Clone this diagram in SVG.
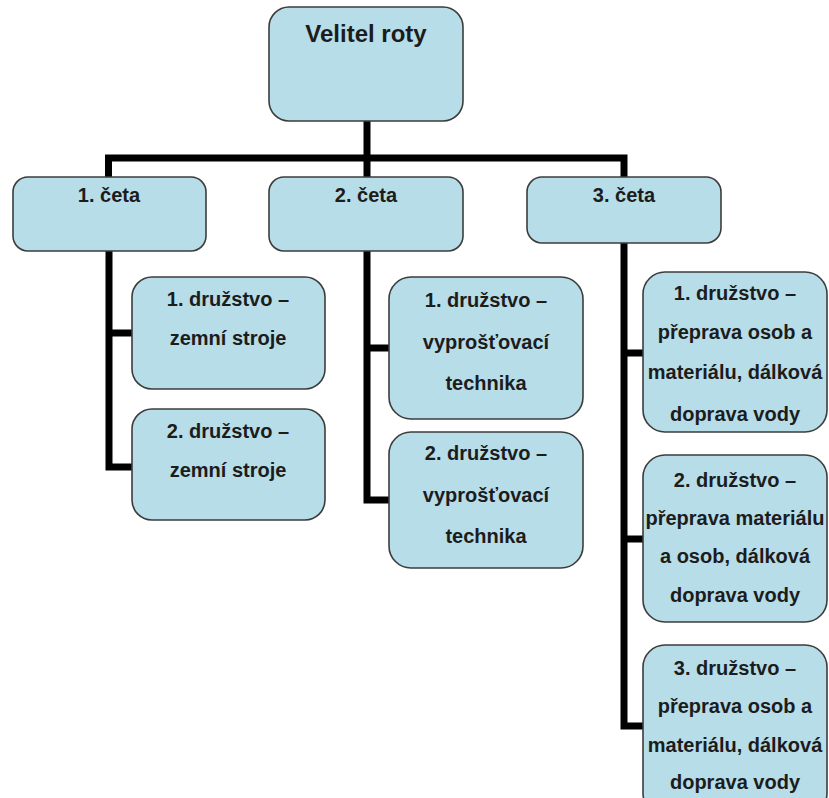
<svg xmlns="http://www.w3.org/2000/svg" width="829" height="798" viewBox="0 0 829 798">
<style>
.box{fill:#b7dde8;stroke:#3c3c3c;stroke-width:1.6}
.t{font-family:"Liberation Sans",Arial,sans-serif;font-weight:bold;font-size:20px;fill:#1c1c1c;text-anchor:middle}
.big{font-size:24px}
.c{fill:none;stroke:#000;stroke-width:7;stroke-linejoin:miter;stroke-linecap:butt}
</style>
<rect width="829" height="798" fill="#fff"/>
<g id="connectors">
<path class="c" d="M367,121 V177"/>
<path class="c" d="M108.5,177 V158 H624 V177"/>
<path class="c" d="M109,251 V467 H132 M109,333 H132"/>
<path class="c" d="M367,251 V500 H389 M367,348 H389"/>
<path class="c" d="M624,243 V726 H643 M624,353 H643 M624,539 H643"/>
</g>
<g id="velitel">
<rect class="box" x="269" y="7" width="194" height="114" rx="20"/>
<text class="t big" x="366" y="42">Velitel roty</text>
</g>
<g id="ceta1">
<rect class="box" x="13" y="177" width="193" height="74" rx="15"/>
<text class="t" x="109" y="202">1. četa</text>
</g>
<g id="ceta2">
<rect class="box" x="269" y="177" width="194" height="74" rx="15"/>
<text class="t" x="366" y="202">2. četa</text>
</g>
<g id="ceta3">
<rect class="box" x="527" y="177" width="194" height="66" rx="15"/>
<text class="t" x="624" y="202">3. četa</text>
</g>
<g id="c1d1">
<rect class="box" x="132" y="277" width="193" height="112" rx="20"/>
<text class="t" x="228" y="306">1. družstvo –</text>
<text class="t" x="228" y="345">zemní stroje</text>
</g>
<g id="c1d2">
<rect class="box" x="132" y="409" width="193" height="111" rx="20"/>
<text class="t" x="228" y="438">2. družstvo –</text>
<text class="t" x="228" y="477">zemní stroje</text>
</g>
<g id="c2d1">
<rect class="box" x="389" y="277" width="194" height="142" rx="22"/>
<text class="t" x="486" y="307">1. družstvo –</text>
<text class="t" x="486" y="349">vyprošťovací</text>
<text class="t" x="486" y="390">technika</text>
</g>
<g id="c2d2">
<rect class="box" x="389" y="432" width="194" height="136" rx="22"/>
<text class="t" x="486" y="460">2. družstvo –</text>
<text class="t" x="486" y="502">vyprošťovací</text>
<text class="t" x="486" y="543">technika</text>
</g>
<g id="c3d1">
<rect class="box" x="643" y="272" width="184" height="160" rx="22"/>
<text class="t" x="735" y="300">1. družstvo –</text>
<text class="t" x="735" y="339">přeprava osob a</text>
<text class="t" x="735" y="379">materiálu, dálková</text>
<text class="t" x="735" y="421">doprava vody</text>
</g>
<g id="c3d2">
<rect class="box" x="643" y="455" width="184" height="167" rx="22"/>
<text class="t" x="735" y="487">2. družstvo –</text>
<text class="t" x="735" y="525">přeprava materiálu</text>
<text class="t" x="735" y="563">a osob, dálková</text>
<text class="t" x="735" y="602">doprava vody</text>
</g>
<g id="c3d3">
<rect class="box" x="643" y="645" width="184" height="170" rx="22"/>
<text class="t" x="735" y="675">3. družstvo –</text>
<text class="t" x="735" y="713">přeprava osob a</text>
<text class="t" x="735" y="752">materiálu, dálková</text>
<text class="t" x="735" y="789">doprava vody</text>
</g>
</svg>
